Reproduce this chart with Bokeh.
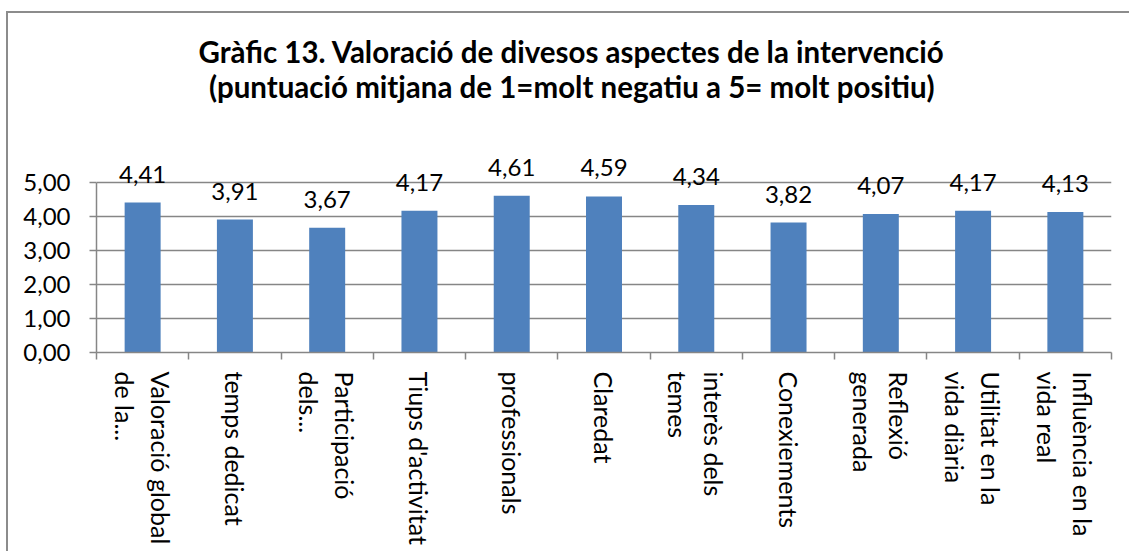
import math
from bokeh.plotting import figure
from bokeh.models import (Range1d, LinearAxis, FixedTicker, CustomJSTickFormatter,
                          ColumnDataSource, LabelSet, Label)
from bokeh.core.properties import value
from bokeh.embed import file_html
from bokeh.resources import INLINE

# ---- data ----
categories = ["Valoració global de la...", "temps dedicat", "Participació dels...",
              "Tiups d'activitat", "professionals", "Claredat", "interès dels temes",
              "Conexiements", "Reflexió generada", "Utilitat en la vida diària",
              "Influència en la vida real"]
values = [4.41, 3.91, 3.67, 4.17, 4.61, 4.59, 4.34, 3.82, 4.07, 4.17, 4.13]
category_tick_labels = ["Valoració global\nde la...", "temps dedicat", "Participació\ndels...",
                        "Tiups d'activitat", "professionals", "Claredat", "interès dels\ntemes",
                        "Conexiements", "Reflexió\ngenerada", "Utilitat en la\nvida diària",
                        "Influència en la\nvida real"]
y_ticks = [0, 1, 2, 3, 4, 5]
title_lines = ["Gràfic 13. Valoració de divesos aspectes de la intervenció",
               "(puntuació mitjana de 1=molt negatiu a 5= molt positiu)"]

n = len(categories)
xpos = [i + 0.5 for i in range(n)]
value_labels = [f"{v:.2f}".replace(".", ",") for v in values]

FONT = "Lato"
GRID = "#868686"
BAR = "#4F81BD"

src = ColumnDataSource(dict(x=xpos, cat=categories, val=values, lab=value_labels))

p = figure(width=1123, height=540, x_range=Range1d(0, n), y_range=Range1d(0, 339 / 34),
           output_backend="svg", toolbar_location=None, x_axis_location=None,
           y_axis_location=None,
           min_border_left=88, min_border_right=20, min_border_top=0, min_border_bottom=201)
p.styles = {"border-left": "2px solid #8c8c8c", "border-top": "2px solid #8c8c8c",
            "margin-left": "6px", "margin-top": "11px"}
p.outline_line_color = None
p.background_fill_color = "white"
p.border_fill_color = "white"

p.vbar(x="x", top="val", width=0.39, source=src, fill_color=BAR, line_color=None)

# y axis
yax = LinearAxis(ticker=FixedTicker(ticks=y_ticks), bounds=(0, 5),
                 formatter=CustomJSTickFormatter(code="return tick.toFixed(2).replace('.', ',');"))
yax.axis_line_color = GRID
yax.axis_line_width = 1.5
yax.major_tick_line_color = GRID
yax.major_tick_line_width = 1.5
yax.major_tick_out = 7
yax.major_tick_in = 0
yax.minor_tick_line_color = None
yax.major_label_text_font = FONT
yax.major_label_text_font_size = "24px"
yax.major_label_text_color = "black"
yax.major_label_standoff = 19
p.add_layout(yax, "left")

# x tick marks at category boundaries
tax = LinearAxis(ticker=FixedTicker(ticks=list(range(n + 1))),
                 formatter=CustomJSTickFormatter(code="return '';"))
tax.axis_line_color = GRID
tax.axis_line_width = 1.5
tax.major_tick_line_color = GRID
tax.major_tick_line_width = 1.5
tax.major_tick_out = 7
tax.major_tick_in = 0
tax.minor_tick_line_color = None
tax.major_label_text_font_size = "1px"
tax.major_label_standoff = 0
p.add_layout(tax, "below")

# category labels
cax = LinearAxis(ticker=FixedTicker(ticks=xpos),
                 formatter=CustomJSTickFormatter(args=dict(labels=category_tick_labels),
                                                 code="return labels[Math.floor(tick)];"))
cax.axis_line_color = None
cax.major_tick_line_color = None
cax.minor_tick_line_color = None
cax.major_tick_out = 0
cax.major_tick_in = 0
cax.major_label_orientation = -math.pi / 2
cax.major_label_text_font = FONT
cax.major_label_text_font_size = "25px"
cax.major_label_text_color = "black"
cax.major_label_standoff = 12
p.add_layout(cax, "below")

p.xgrid.grid_line_color = None
p.ygrid.ticker = FixedTicker(ticks=y_ticks)
p.ygrid.grid_line_color = GRID
p.ygrid.grid_line_width = 1.5

labels = LabelSet(x="x", y="val", text="lab", source=src, text_align="center",
                  text_baseline="alphabetic", y_offset=20, text_font=value(FONT),
                  text_font_size=value("24px"), text_color="black")
p.add_layout(labels)

for txt, yy in zip(title_lines, [8.86, 7.83]):
    p.add_layout(Label(x=5.15, y=yy, text=txt, text_align="center",
                       text_baseline="alphabetic", text_font=FONT, text_font_style="bold",
                       text_font_size="29.5px", text_color="black"))

open("out.html", "w").write(file_html(p, INLINE))
